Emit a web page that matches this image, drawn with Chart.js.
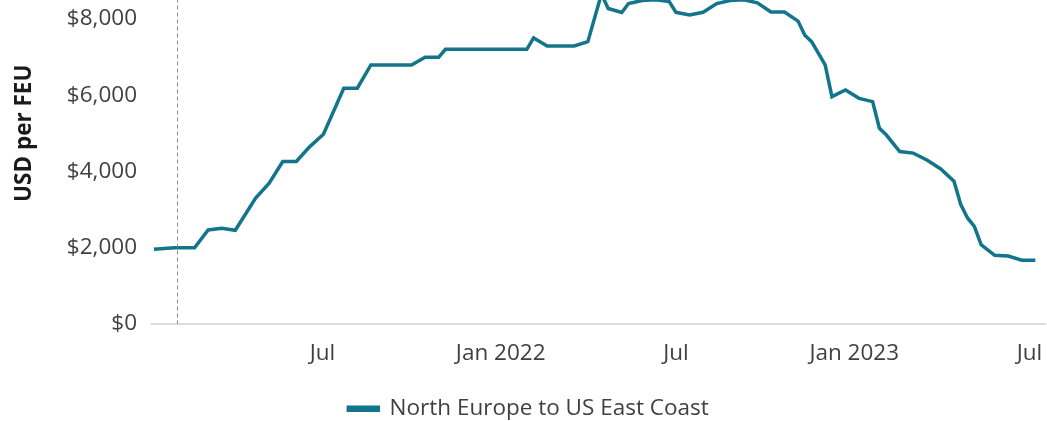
<!DOCTYPE html>
<html>
<head>
<meta charset="utf-8">
<script src="https://cdn.jsdelivr.net/npm/chart.js@4.4.0/dist/chart.umd.min.js"></script>
<style>
  html, body { margin: 0; padding: 0; background: #ffffff; overflow: hidden; }
  #frame { position: relative; width: 1047px; height: 421px; overflow: hidden; }
  #wrap { position: absolute; left: 0; top: -85px; width: 1047px; height: 515px; }
</style>
</head>
<body>
<div id="frame"><div id="wrap"><canvas id="c"></canvas></div></div>
<script>
// ---- data ----
const seriesName = 'North Europe to US East Coast';
const dates = [
  '2021-01-08','2021-01-29','2021-02-19','2021-03-05','2021-03-19','2021-04-02',
  '2021-04-23','2021-05-07','2021-05-21','2021-06-04','2021-06-18','2021-07-02',
  '2021-07-23','2021-08-06','2021-08-20','2021-10-01','2021-10-15','2021-10-29',
  '2021-11-05','2022-01-28','2022-02-04','2022-02-18','2022-03-18','2022-04-01',
  '2022-04-15','2022-04-22','2022-05-06','2022-05-13','2022-05-27','2022-06-10',
  '2022-06-24','2022-07-01','2022-07-15','2022-07-29','2022-08-12','2022-08-26',
  '2022-09-09','2022-09-23','2022-10-07','2022-10-21','2022-11-04','2022-11-11',
  '2022-11-18','2022-12-02','2022-12-09','2022-12-23','2023-01-06','2023-01-20',
  '2023-01-27','2023-02-03','2023-02-17','2023-03-03','2023-03-17','2023-03-31',
  '2023-04-14','2023-04-21','2023-04-28','2023-05-05','2023-05-12','2023-05-26',
  '2023-06-09','2023-06-23','2023-07-07'
];
const rates = [
  1960, 2000, 2000, 2465, 2510, 2457,
  3300, 3690, 4260, 4260, 4650, 4975,
  6180, 6180, 6790, 6790, 6990, 6990,
  7200, 7200, 7500, 7290, 7290, 7400,
  8650, 8270, 8165, 8400, 8480, 8500,
  8450, 8170, 8100, 8170, 8400, 8480,
  8500, 8420, 8180, 8180, 7940, 7570,
  7400, 6790, 5960, 6135, 5915, 5830,
  5130, 4960, 4520, 4480, 4300, 4070,
  3740, 3130, 2780, 2560, 2080, 1800,
  1780, 1670, 1670
];
const tickDates = ['2021-07-01','2022-01-01','2022-07-01','2023-01-01','2023-07-01'];
const tickLabels = ['Jul','Jan 2022','Jul','Jan 2023','Jul'];
const markerDate = '2021-02-01';
const xMinDate = '2021-01-05';
const xMaxDate = '2023-07-18';
const yTicks = [0, 2000, 4000, 6000, 8000, 10000];

// ---- helpers ----
const ts = s => Date.parse(s + 'T00:00:00Z');
const points = dates.map((d, i) => ({ x: ts(d), y: rates[i] }));
const tickTs = tickDates.map(ts);

const TEAL = '#13758B';
const FONT = "'Open Sans', 'DejaVu Sans', sans-serif";
const FS = 22.5;

const markerPlugin = {
  id: 'marker',
  afterDatasetsDraw(chart) {
    const { ctx, chartArea, scales } = chart;
    const x = Math.round(scales.x.getPixelForValue(ts(markerDate))) + 0.5;
    ctx.save();
    ctx.strokeStyle = '#8a8a8a';
    ctx.lineWidth = 1;
    ctx.setLineDash([4, 3]);
    ctx.beginPath();
    ctx.moveTo(x, chartArea.top);
    ctx.lineTo(x, chartArea.bottom);
    ctx.stroke();
    ctx.restore();
  }
};

new Chart(document.getElementById('c'), {
  type: 'line',
  data: {
    datasets: [{
      label: seriesName,
      data: points,
      borderColor: TEAL,
      backgroundColor: TEAL,
      borderWidth: 3.5,
      pointRadius: 0,
      tension: 0,
      fill: false
    }]
  },
  options: {
    responsive: true,
    maintainAspectRatio: false,
    animation: false,
    layout: { padding: { left: 11, right: 1, top: 0, bottom: 0 } },
    plugins: {
      legend: {
        position: 'bottom',
        labels: {
          color: '#404040',
          font: { family: FONT, size: FS },
          boxWidth: 30,
          boxHeight: 3,
          padding: 10
        }
      },
      tooltip: { enabled: false }
    },
    scales: {
      x: {
        type: 'linear',
        min: ts(xMinDate),
        max: ts(xMaxDate),
        afterBuildTicks(scale) { scale.ticks = tickTs.map(v => ({ value: v })); },
        afterFit(scale) { scale.height = 63.5; },
        ticks: {
          color: '#404040',
          font: { family: FONT, size: FS },
          padding: 3,
          maxRotation: 0,
          autoSkip: false,
          callback(v) { const i = tickTs.indexOf(v); return i >= 0 ? tickLabels[i] : ''; }
        },
        grid: {
          display: true,
          drawOnChartArea: false,
          drawTicks: true,
          tickLength: 13.5,
          color: 'rgba(0,0,0,0)'
        },
        border: { display: false }
      },
      y: {
        min: 0,
        max: 10000,
        afterBuildTicks(scale) { scale.ticks = yTicks.map(v => ({ value: v })); },
        ticks: {
          color: '#404040',
          font: { family: FONT, size: FS },
          padding: 14,
          callback(v) { return '$' + Number(v).toLocaleString('en-US'); }
        },
        grid: {
          drawTicks: false,
          lineWidth: 2,
          color(ctx) { return ctx.tick && ctx.tick.value === 0 ? '#dcdcdc' : 'rgba(0,0,0,0)'; }
        },
        border: { display: false },
        title: {
          display: true,
          text: 'USD per FEU',
          color: '#1a1a1a',
          font: { family: FONT, size: FS, weight: 'bold' },
          padding: { top: 0, bottom: 2 }
        }
      }
    }
  },
  plugins: [markerPlugin]
});
</script>
</body>
</html>
